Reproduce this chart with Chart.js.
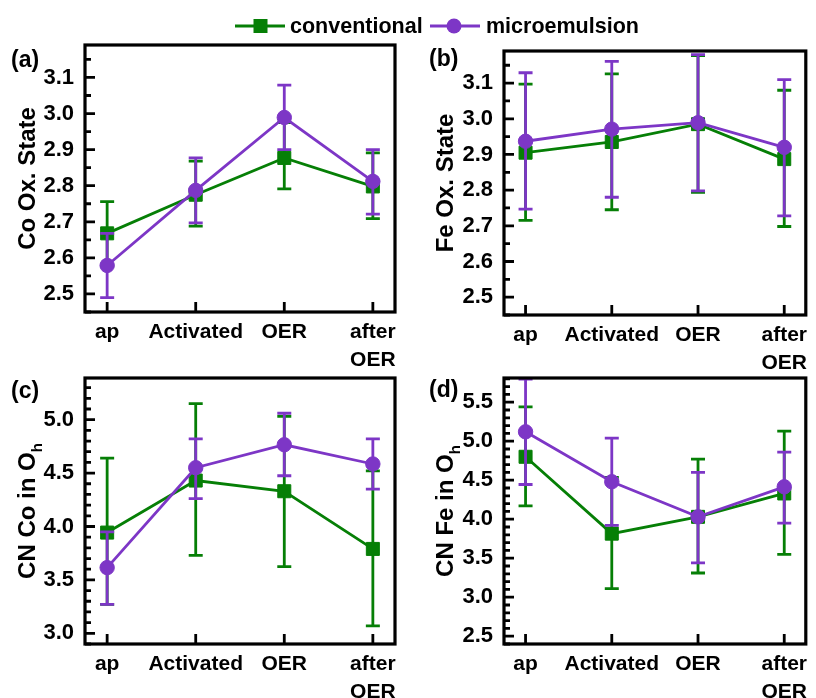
<!DOCTYPE html>
<html>
<head>
<meta charset="utf-8">
<script src="https://cdn.jsdelivr.net/npm/chart.js@4.4.1/dist/chart.umd.min.js"></script>
<style>
  html, body { margin: 0; padding: 0; background: #ffffff; }
  #wrap { position: relative; width: 816px; height: 698px; overflow: hidden; background: #fff; }
  #wrap canvas { position: absolute; left: 0; top: 0; }
</style>
</head>
<body>
<div id="wrap">
  <canvas id="pa" width="816" height="698"></canvas>
  <canvas id="pb" width="816" height="698"></canvas>
  <canvas id="pc" width="816" height="698"></canvas>
  <canvas id="pd" width="816" height="698"></canvas>
</div>
<script>
// ---------------- data ----------------
const categories = ['ap', 'Activated', 'OER', 'after OER'];
const xTickLabels = ['ap', 'Activated', 'OER', ['after', 'OER']];
const xPositions = [0, 1, 2, 3];
const seriesNames = ['conventional', 'microemulsion'];

// (a) Co oxidation state
const coOxTicks = [2.5, 2.6, 2.7, 2.8, 2.9, 3.0, 3.1];
const coOxConv = [2.668, 2.775, 2.877, 2.798];
const coOxConvLow = [2.577, 2.688, 2.791, 2.709];
const coOxConvHigh = [2.756, 2.868, 2.975, 2.891];
const coOxMicro = [2.579, 2.787, 2.989, 2.812];
const coOxMicroLow = [2.490, 2.697, 2.900, 2.721];
const coOxMicroHigh = [2.668, 2.877, 3.079, 2.900];

// (b) Fe oxidation state
const feOxTicks = [2.5, 2.6, 2.7, 2.8, 2.9, 3.0, 3.1];
const feOxConv = [2.905, 2.935, 2.985, 2.887];
const feOxConvLow = [2.715, 2.745, 2.794, 2.698];
const feOxConvHigh = [3.097, 3.126, 3.177, 3.080];
const feOxMicro = [2.937, 2.971, 2.989, 2.920];
const feOxMicroLow = [2.747, 2.780, 2.798, 2.728];
const feOxMicroHigh = [3.129, 3.161, 3.180, 3.110];

// (c) CN Co in Oh
const cnCoTicks = [3.0, 3.5, 4.0, 4.5, 5.0];
const cnCoConv = [3.943, 4.43, 4.33, 3.79];
const cnCoConvLow = [3.27, 3.73, 3.625, 3.07];
const cnCoConvHigh = [4.64, 5.15, 5.03, 4.52];
const cnCoMicro = [3.615, 4.55, 4.765, 4.585];
const cnCoMicroLow = [3.27, 4.26, 4.475, 4.35];
const cnCoMicroHigh = [3.95, 4.82, 5.06, 4.82];

// (d) CN Fe in Oh
const cnFeTicks = [2.5, 3.0, 3.5, 4.0, 4.5, 5.0, 5.5];
const cnFeConv = [4.80, 3.815, 4.03, 4.33];
const cnFeConvLow = [4.17, 3.11, 3.31, 3.55];
const cnFeConvHigh = [5.44, 4.535, 4.77, 5.13];
const cnFeMicro = [5.12, 4.48, 4.03, 4.415];
const cnFeMicroLow = [4.445, 3.92, 3.44, 3.95];
const cnFeMicroHigh = [5.795, 5.04, 4.60, 4.86];

// ---------------- style ----------------
const GREEN = '#067f06';
const PURPLE = '#7d36c6';
const FONT = '"Liberation Sans", Arial, Helvetica, sans-serif';
const W = 816, H = 698;

const framePlugin = {
  id: 'frame',
  beforeDatasetDraw(chart, args) {
    const ds = chart.data.datasets[args.index];
    const meta = args.meta;
    const ys = chart.scales.y;
    const ctx = chart.ctx;
    ctx.save();
    ctx.strokeStyle = ds.borderColor;
    ctx.lineWidth = 2.8;
    ctx.lineCap = 'butt';
    meta.data.forEach((pt, i) => {
      const x = pt.x;
      const yl = ys.getPixelForValue(ds.errLow[i]);
      const yh = ys.getPixelForValue(ds.errHigh[i]);
      ctx.beginPath();
      ctx.moveTo(x, yl); ctx.lineTo(x, yh);
      ctx.moveTo(x - 7, yl); ctx.lineTo(x + 7, yl);
      ctx.moveTo(x - 7, yh); ctx.lineTo(x + 7, yh);
      ctx.stroke();
    });
    ctx.restore();
  },
  afterDatasetsDraw(chart, args, o) {
    const { ctx, chartArea: a } = chart;
    const ys = chart.scales.y, xs = chart.scales.x;
    ctx.save();
    ctx.strokeStyle = '#000';
    ctx.lineWidth = 2.8;
    ctx.beginPath();
    const k0 = Math.ceil(ys.min / o.minor - 1e-6), k1 = Math.floor(ys.max / o.minor + 1e-6);
    for (let k = k0; k <= k1; k++) {
      const y = ys.getPixelForValue(k * o.minor);
      ctx.moveTo(a.left, y); ctx.lineTo(a.left + 6, y);
    }
    ys.ticks.forEach(t => {
      const y = ys.getPixelForValue(t.value);
      ctx.moveTo(a.left, y); ctx.lineTo(a.left + 10, y);
    });
    xs.ticks.forEach(t => {
      const x = xs.getPixelForValue(t.value);
      ctx.moveTo(x, a.bottom); ctx.lineTo(x, a.bottom - 10);
    });
    ctx.stroke();
    ctx.lineWidth = 3.2;
    ctx.strokeRect(a.left, a.top, a.right - a.left, a.bottom - a.top);
    ctx.restore();
  },
  afterDraw(chart, args, o) {
    const { ctx, chartArea: a } = chart;
    ctx.save();
    ctx.fillStyle = '#000';
    ctx.textBaseline = 'alphabetic';
    ctx.textAlign = 'left';
    // panel label
    ctx.font = 'bold 23px ' + FONT;
    ctx.fillText(o.label, o.labelX, o.labelY);
    // y title (rotated, with optional subscript)
    const cy = (a.top + a.bottom) / 2;
    let total = 0;
    const widths = o.title.map(p => {
      ctx.font = 'bold ' + (p.sub ? 15 : 24) + 'px ' + FONT;
      const w = ctx.measureText(p.t).width;
      total += w;
      return w;
    });
    ctx.translate(o.titleX, cy);
    ctx.rotate(-Math.PI / 2);
    let x = -total / 2;
    o.title.forEach((p, i) => {
      ctx.font = 'bold ' + (p.sub ? 15 : 24) + 'px ' + FONT;
      ctx.fillText(p.t, x, p.sub ? 7 : 0);
      x += widths[i];
    });
    ctx.restore();
    // legend
    if (o.legend) {
      ctx.save();
      ctx.lineWidth = 3;
      ctx.strokeStyle = GREEN; ctx.fillStyle = GREEN;
      ctx.beginPath(); ctx.moveTo(235, 26); ctx.lineTo(285, 26); ctx.stroke();
      ctx.fillRect(253.5, 19, 14, 14);
      ctx.strokeStyle = PURPLE; ctx.fillStyle = PURPLE;
      ctx.beginPath(); ctx.moveTo(430, 26); ctx.lineTo(480, 26); ctx.stroke();
      ctx.beginPath(); ctx.arc(454, 26, 7.5, 0, Math.PI * 2); ctx.fill();
      ctx.fillStyle = '#000';
      ctx.font = 'bold 21.5px ' + FONT;
      ctx.textBaseline = 'alphabetic';
      ctx.fillText(seriesNames[0], 290, 33);
      ctx.fillText(seriesNames[1], 486, 33);
      ctx.restore();
    }
  }
};

function toPoints(vals) {
  return vals.map((v, i) => ({ x: xPositions[i], y: v }));
}

function makePanel(id, p) {
  const f = p.frame;
  return new Chart(document.getElementById(id), {
    type: 'line',
    data: {
      datasets: [
        {
          label: seriesNames[0], data: toPoints(p.conv), errLow: p.convLow, errHigh: p.convHigh,
          borderColor: GREEN, backgroundColor: GREEN, pointBackgroundColor: GREEN, pointBorderColor: GREEN,
          pointStyle: 'rect', pointRadius: 9.2, pointBorderWidth: 1, borderWidth: 2.8, tension: 0, order: 2
        },
        {
          label: seriesNames[1], data: toPoints(p.micro), errLow: p.microLow, errHigh: p.microHigh,
          borderColor: PURPLE, backgroundColor: PURPLE, pointBackgroundColor: PURPLE, pointBorderColor: PURPLE,
          pointStyle: 'circle', pointRadius: 7.2, pointBorderWidth: 1, borderWidth: 2.8, tension: 0, order: 1
        }
      ]
    },
    options: {
      responsive: false,
      animation: false,
      events: [],
      layout: { padding: { left: f.l - 60, right: W - f.r, top: f.t, bottom: H - f.b - 60 } },
      scales: {
        x: {
          type: 'linear', min: -0.25, max: 3.25,
          afterBuildTicks: s => { s.ticks = xPositions.map(v => ({ value: v })); },
          afterFit: s => { s.height = 60; s.paddingLeft = 0; s.paddingRight = 0; },
          grid: { display: false, drawTicks: false },
          border: { display: false },
          ticks: {
            autoSkip: false, maxRotation: 0, minRotation: 0, padding: 7, color: '#000',
            font: { family: FONT, size: 21, weight: 'bold', lineHeight: 1.3 },
            callback: (v, i) => xTickLabels[i]
          }
        },
        y: {
          type: 'linear', min: p.min, max: p.max,
          afterBuildTicks: s => { s.ticks = p.ticks.map(v => ({ value: v })); },
          afterFit: s => { s.width = 60; s.paddingTop = 0; s.paddingBottom = 0; },
          grid: { display: false, drawTicks: false },
          border: { display: false },
          ticks: {
            padding: 11, color: '#000',
            font: { family: FONT, size: 22, weight: 'bold' },
            callback: v => Number(v).toFixed(1)
          }
        }
      },
      plugins: {
        legend: { display: false },
        tooltip: { enabled: false },
        frame: {
          label: p.label, labelX: p.labelX, labelY: p.labelY,
          title: p.title, titleX: p.titleX, minor: p.minor, legend: !!p.legend
        }
      }
    },
    plugins: [framePlugin]
  });
}

makePanel('pa', {
  frame: { l: 85, r: 395, t: 45, b: 312 }, min: 2.45, max: 3.19, ticks: coOxTicks, minor: 0.05,
  conv: coOxConv, convLow: coOxConvLow, convHigh: coOxConvHigh,
  micro: coOxMicro, microLow: coOxMicroLow, microHigh: coOxMicroHigh,
  label: '(a)', labelX: 11, labelY: 67, title: [{ t: 'Co Ox. State' }], titleX: 35, legend: true
});
makePanel('pb', {
  frame: { l: 504, r: 812, t: 51, b: 315 }, min: 2.45, max: 3.19, ticks: feOxTicks, minor: 0.05,
  conv: feOxConv, convLow: feOxConvLow, convHigh: feOxConvHigh,
  micro: feOxMicro, microLow: feOxMicroLow, microHigh: feOxMicroHigh,
  label: '(b)', labelX: 429, labelY: 66, title: [{ t: 'Fe Ox. State' }], titleX: 453
});
makePanel('pc', {
  frame: { l: 85, r: 395, t: 378, b: 644 }, min: 2.9, max: 5.39, ticks: cnCoTicks, minor: 0.1,
  conv: cnCoConv, convLow: cnCoConvLow, convHigh: cnCoConvHigh,
  micro: cnCoMicro, microLow: cnCoMicroLow, microHigh: cnCoMicroHigh,
  label: '(c)', labelX: 11, labelY: 398, title: [{ t: 'CN Co in O' }, { t: 'h', sub: true }], titleX: 35
});
makePanel('pd', {
  frame: { l: 504, r: 812, t: 378, b: 644 }, min: 2.4, max: 5.81, ticks: cnFeTicks, minor: 0.1,
  conv: cnFeConv, convLow: cnFeConvLow, convHigh: cnFeConvHigh,
  micro: cnFeMicro, microLow: cnFeMicroLow, microHigh: cnFeMicroHigh,
  label: '(d)', labelX: 429, labelY: 397, title: [{ t: 'CN Fe in O' }, { t: 'h', sub: true }], titleX: 453
});
</script>
</body>
</html>
